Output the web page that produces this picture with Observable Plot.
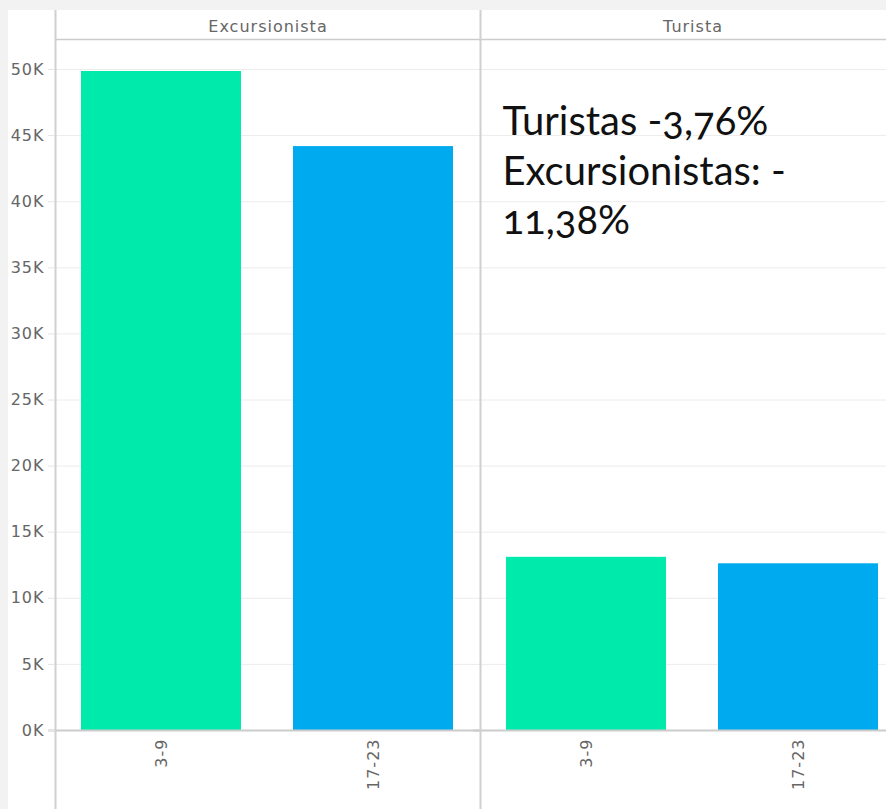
<!DOCTYPE html>
<html><head><meta charset="utf-8">
<script src="https://cdn.jsdelivr.net/npm/d3@7"></script>
<script src="https://cdn.jsdelivr.net/npm/@observablehq/plot@0.6"></script>
<style>
html,body{margin:0;padding:0;background:#f2f2f2;overflow:hidden;}
#wrap{position:absolute;left:8px;top:10px;width:878px;height:799px;background:#fff;overflow:hidden;}
#wrap svg{display:block;max-width:none !important;width:897px;height:799px;}
g[aria-label*="tick label"]{letter-spacing:1px;}
g[aria-label="text"]{font-variant-numeric:oldstyle-nums;font-feature-settings:"onum" 1;}
</style></head><body><div id="wrap"></div>
<script>
// Data
const groups  = ["Excursionista", "Excursionista", "Turista", "Turista"];
const periods = ["3-9", "17-23", "3-9", "17-23"];
const values  = [49850, 44170, 13100, 12610];
const periodOrder = ["3-9", "17-23"];
const groupOrder = ["Excursionista", "Turista"];
const periodColors = ["#00EBAB", "#00AAEE"];
const yTicks = [0, 5000, 10000, 15000, 20000, 25000, 30000, 35000, 40000, 45000, 50000];
const yMax = 52270;
const note = "Turistas -3,76%\nExcursionistas: -\n11,38%";

const data = groups.map((g, i) => ({group: g, period: periods[i], value: values[i]}));

const chart = Plot.plot({
  width: 897,
  height: 799,
  marginLeft: 47,
  marginRight: 0,
  marginTop: 29,
  marginBottom: 79,
  style: {fontFamily: "DejaVu Sans", fontSize: "16px", background: "white", overflow: "visible"},
  fx: {domain: groupOrder, padding: 0, label: null},
  x: {domain: periodOrder, paddingInner: 0.245, paddingOuter: 0.1225, label: null},
  y: {domain: [0, yMax], label: null},
  color: {domain: periodOrder, range: periodColors},
  marks: [
    Plot.gridY({ticks: yTicks, stroke: "#ececec", strokeOpacity: 1}),
    Plot.barY(data, {fx: "group", x: "period", y: "value", fill: "period"}),
    Plot.ruleY([0], {stroke: "#cccccc", strokeWidth: 2, insetLeft: -7}),
    Plot.frame({anchor: "top", stroke: "#cccccc", strokeWidth: 1.5}),
    Plot.frame({anchor: "left", stroke: "#d0d0d0", strokeWidth: 2, insetTop: -29, insetBottom: -79}),
    Plot.axisY({ticks: yTicks, tickFormat: d => (d / 1000) + "K", tickSize: 7, tickPadding: 4,
      stroke: "#e4e4e4", fill: "#666", fontSize: 16, label: null}),
    Plot.axisX({tickRotate: -90, tickSize: 0, tickPadding: 8, fill: "#666", fontSize: 16, label: null}),
    Plot.axisFx({anchor: "top", tickSize: 0, tickPadding: 8, fill: "#666", fontSize: 16, label: null}),
    Plot.text([note], {fx: () => "Turista", text: d => d, frameAnchor: "top-left", lineAnchor: "top",
      textAnchor: "start", dx: 22, dy: 61, fontFamily: "Lato", fontSize: 40, lineHeight: 1.23, fill: "#111"})
  ]
});
document.getElementById("wrap").appendChild(chart);
</script>
</body></html>
